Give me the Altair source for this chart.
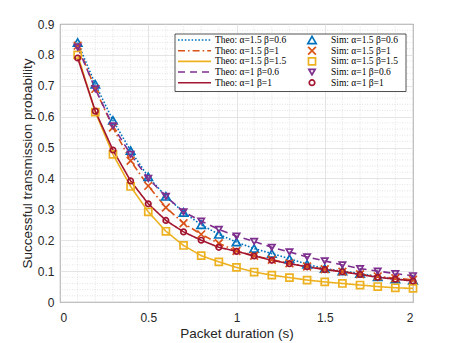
import altair as alt
import pandas as pd

# ---------------- data ----------------
durations = [0.1, 0.2, 0.3, 0.4, 0.5, 0.6, 0.7, 0.8, 0.9, 1.0,
             1.1, 1.2, 1.3, 1.4, 1.5, 1.6, 1.7, 1.8, 1.9, 2.0]

p_a15_b06 = [0.840, 0.705, 0.588, 0.490, 0.405, 0.342, 0.290, 0.250, 0.219, 0.194,
             0.173, 0.157, 0.140, 0.122, 0.108, 0.100, 0.092, 0.082, 0.074, 0.070]
p_a15_b1 = [0.830, 0.690, 0.565, 0.457, 0.376, 0.306, 0.255, 0.219, 0.190, 0.165,
            0.150, 0.137, 0.125, 0.115, 0.106, 0.098, 0.090, 0.083, 0.077, 0.072]
p_a15_b15 = [0.800, 0.615, 0.478, 0.374, 0.292, 0.229, 0.183, 0.150, 0.130, 0.112,
             0.097, 0.087, 0.079, 0.071, 0.065, 0.060, 0.055, 0.050, 0.046, 0.044]
p_a1_b06 = [0.825, 0.690, 0.570, 0.478, 0.400, 0.342, 0.292, 0.262, 0.235, 0.213,
            0.196, 0.177, 0.162, 0.146, 0.133, 0.120, 0.108, 0.100, 0.092, 0.085]
p_a1_b1 = [0.790, 0.618, 0.492, 0.392, 0.318, 0.264, 0.227, 0.200, 0.177, 0.164,
           0.149, 0.135, 0.124, 0.114, 0.105, 0.098, 0.089, 0.080, 0.074, 0.068]

series_keys = ["a15b06", "a15b1", "a15b15", "a1b06", "a1b1"]
theo_labels = ["Theo: α=1.5 β=0.6", "Theo: α=1.5 β=1", "Theo: α=1.5 β=1.5",
               "Theo: α=1 β=0.6", "Theo: α=1 β=1"]
sim_labels = ["Sim: α=1.5 β=0.6", "Sim: α=1.5 β=1", "Sim: α=1.5 β=1.5",
              "Sim: α=1 β=0.6", "Sim: α=1 β=1"]
series_values = [p_a15_b06, p_a15_b1, p_a15_b15, p_a1_b06, p_a1_b1]

x_ticks = [0, 0.5, 1, 1.5, 2]
y_ticks = [0, 0.1, 0.2, 0.3, 0.4, 0.5, 0.6, 0.7, 0.8, 0.9]
x_minor = [0.1, 0.2, 0.3, 0.4, 0.6, 0.7, 0.8, 0.9, 1.1, 1.2, 1.3, 1.4,
           1.6, 1.7, 1.8, 1.9]
y_minor = [v / 100 for v in range(2, 90, 2) if v % 10 != 0]

# ---------------- styles ----------------
colors = ["#0072BD", "#D95319", "#EDB120", "#7E2F8E", "#A2142F"]
dashes = [[1.6, 1.8], [7, 3, 1.6, 3], [1, 0], [7, 5], [1, 0]]
shapes = ["triangle-up", "M-1,-1L1,1M-1,1L1,-1", "square", "triangle-down", "circle"]
sizes = [70, 30, 30, 70, 45]

rows = []
for key, vals in zip(series_keys, series_values):
    for xv, yv in zip(durations, vals):
        rows.append({"x": xv, "y": yv, "s": key})
df = pd.DataFrame(rows)

leg_df = pd.DataFrame({"s": series_keys, "row": [0, 1, 2, 3, 4],
                       "theo": theo_labels, "sim": sim_labels})

xscale = alt.Scale(domain=[0, 2], nice=False, zero=False)
yscale = alt.Scale(domain=[0, 0.9], nice=False, zero=False)
color_scale = alt.Scale(domain=series_keys, range=colors)
dash_scale = alt.Scale(domain=series_keys, range=dashes)
shape_scale = alt.Scale(domain=series_keys, range=shapes)
size_scale = alt.Scale(domain=series_keys, range=sizes)

x_axis = alt.Axis(values=x_ticks, format="~g", title="Packet duration (s)",
                  grid=True, labelPadding=10, titlePadding=3)
y_axis = alt.Axis(values=y_ticks, format="~g",
                  title="Successful transmission probability",
                  grid=True, labelPadding=6, titlePadding=3)

minor_v = alt.Chart(pd.DataFrame({"x": x_minor})).mark_rule(
    color="#d2d2d2", strokeWidth=0.6, strokeDash=[1, 1.5]
).encode(x=alt.X("x:Q", scale=xscale, axis=x_axis))

minor_h = alt.Chart(pd.DataFrame({"y": y_minor})).mark_rule(
    color="#d2d2d2", strokeWidth=0.6, strokeDash=[1, 1.5]
).encode(y=alt.Y("y:Q", scale=yscale, axis=y_axis))

lines = alt.Chart(df).mark_line(strokeWidth=1.6).encode(
    x=alt.X("x:Q", scale=xscale, axis=x_axis),
    y=alt.Y("y:Q", scale=yscale, axis=y_axis),
    color=alt.Color("s:N", scale=color_scale, legend=None),
    strokeDash=alt.StrokeDash("s:N", scale=dash_scale, legend=None),
)

points = alt.Chart(df).mark_point(filled=False, strokeWidth=1.7, opacity=1).encode(
    x=alt.X("x:Q", scale=xscale, axis=x_axis),
    y=alt.Y("y:Q", scale=yscale, axis=y_axis),
    color=alt.Color("s:N", scale=color_scale, legend=None),
    shape=alt.Shape("s:N", scale=shape_scale, legend=None),
    size=alt.Size("s:N", scale=size_scale, legend=None),
)

main = alt.layer(minor_v, minor_h, lines, points)

# ---------------- legend ----------------
row_y = alt.Y("row:O", scale=alt.Scale(type="point", range=[16, 58.7], padding=0), axis=None)

frame = alt.Chart(pd.DataFrame({"a": [0]})).mark_rect(
    fill="white", stroke="#262626", strokeWidth=0.8
).encode(x=alt.value(115), x2=alt.value(346), y=alt.value(10), y2=alt.value(67.5))

leg_lines = alt.Chart(leg_df).mark_rule(strokeWidth=1.6).encode(
    x=alt.value(118), x2=alt.value(151), y=row_y,
    color=alt.Color("s:N", scale=color_scale, legend=None),
    strokeDash=alt.StrokeDash("s:N", scale=dash_scale, legend=None),
)
leg_theo = alt.Chart(leg_df).mark_text(
    align="left", baseline="middle", font="Liberation Serif", fontSize=9.5, color="#000000"
).encode(x=alt.value(155), y=row_y, text="theo:N")

leg_pts = alt.Chart(leg_df).mark_point(filled=False, strokeWidth=1.7, opacity=1).encode(
    x=alt.value(252), y=row_y,
    color=alt.Color("s:N", scale=color_scale, legend=None),
    shape=alt.Shape("s:N", scale=shape_scale, legend=None),
    size=alt.Size("s:N", scale=size_scale, legend=None),
)
leg_sim = alt.Chart(leg_df).mark_text(
    align="left", baseline="middle", font="Liberation Serif", fontSize=9.5, color="#000000"
).encode(x=alt.value(271), y=row_y, text="sim:N")

legend = alt.layer(frame, leg_lines, leg_theo, leg_pts, leg_sim)

chart = alt.layer(main, legend).resolve_scale(y="independent").properties(
    width=353, height=278,
    padding={"left": 52, "top": 16, "right": 36, "bottom": 40},
    autosize=alt.AutoSizeParams(type="none"),
).configure_view(
    stroke="#262626", strokeWidth=0.9
).configure_axis(
    domain=False, ticks=False,
    labelFont="Liberation Sans", labelFontSize=12, labelColor="#262626",
    titleFont="Liberation Sans", titleFontSize=13.5, titleFontWeight="normal",
    titleColor="#262626", gridColor="#dedede", gridWidth=0.8,
)

chart.save("out.html", embed_options={"renderer": "svg", "actions": False})
